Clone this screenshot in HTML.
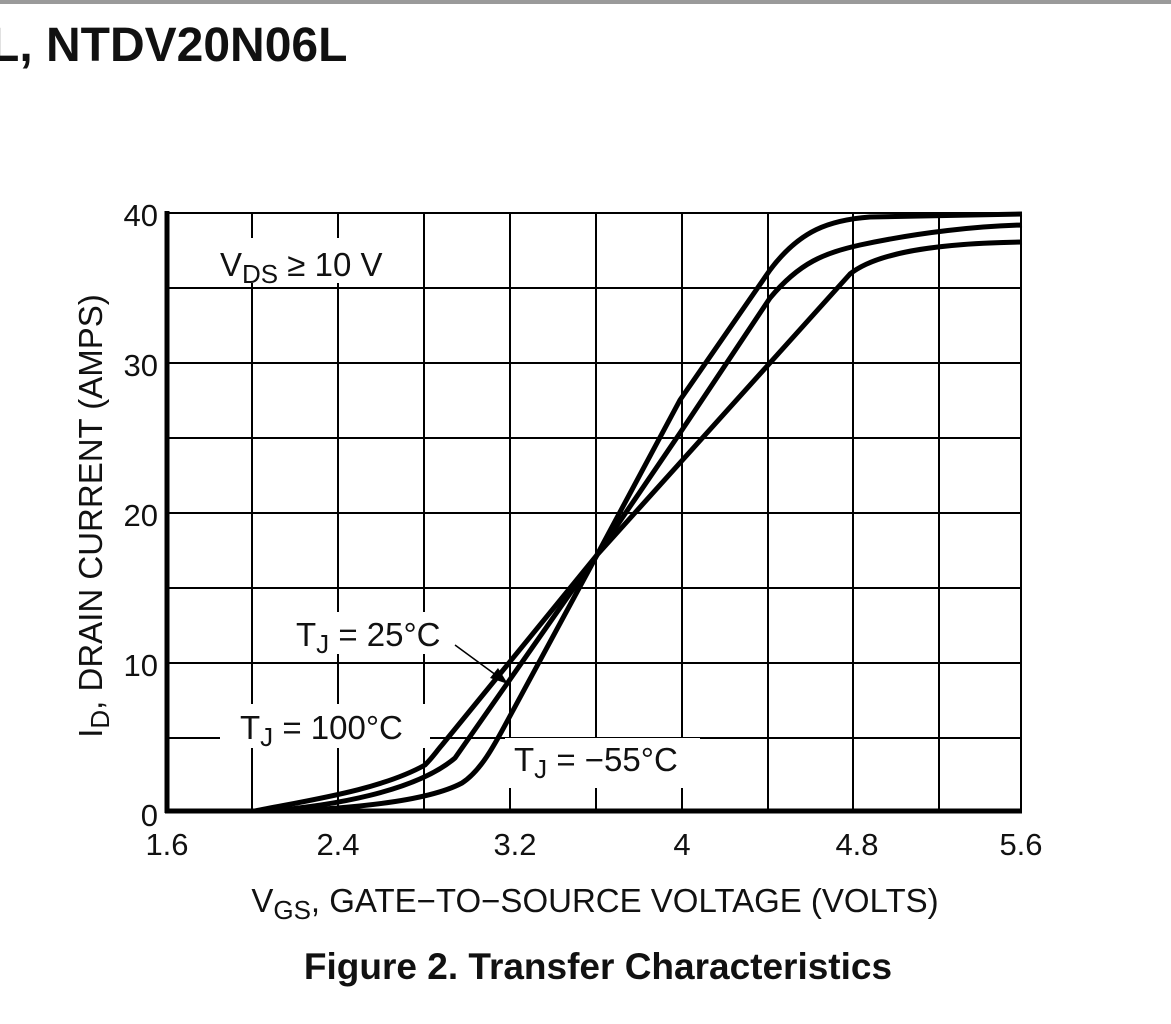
<!DOCTYPE html>
<html><head><meta charset="utf-8"><style>
html,body{margin:0;padding:0;background:#fff;}
svg{display:block;font-family:"Liberation Sans",Arial,sans-serif;}
</style></head><body>
<svg width="1171" height="1024" viewBox="0 0 1171 1024">
<rect x="0" y="0" width="1171" height="1024" fill="#fff"/>
<rect x="0" y="0" width="1171" height="4" fill="#9a9a9a"/>
<text x="-10" y="61" font-size="48" font-weight="bold" fill="#111">L, NTDV20N06L</text>
<g stroke="#000" stroke-width="2" fill="none">
<line x1="252" y1="213" x2="252" y2="812"/>
<line x1="338" y1="213" x2="338" y2="812"/>
<line x1="424" y1="213" x2="424" y2="812"/>
<line x1="510" y1="213" x2="510" y2="812"/>
<line x1="596" y1="213" x2="596" y2="812"/>
<line x1="682" y1="213" x2="682" y2="812"/>
<line x1="768" y1="213" x2="768" y2="812"/>
<line x1="853" y1="213" x2="853" y2="812"/>
<line x1="939" y1="213" x2="939" y2="812"/>
<line x1="1021" y1="213" x2="1021" y2="812"/>
<line x1="167" y1="213" x2="1022" y2="213"/>
<line x1="167" y1="288" x2="1022" y2="288"/>
<line x1="167" y1="363" x2="1022" y2="363"/>
<line x1="167" y1="438" x2="1022" y2="438"/>
<line x1="167" y1="513" x2="1022" y2="513"/>
<line x1="167" y1="588" x2="1022" y2="588"/>
<line x1="167" y1="663" x2="1022" y2="663"/>
<line x1="167" y1="738" x2="1022" y2="738"/>
</g>
<rect x="210" y="238" width="185" height="45" fill="#fff"/>
<rect x="285" y="612" width="168" height="42" fill="#fff"/>
<rect x="220" y="704" width="210" height="44" fill="#fff"/>
<rect x="505" y="738" width="195" height="50" fill="#fff"/>
<g stroke="#000" stroke-width="5" fill="none">
<line x1="167" y1="211" x2="167" y2="813"/>
<line x1="165" y1="811" x2="1022" y2="811"/>
</g>
<g stroke="#000" stroke-width="5" fill="none" stroke-linejoin="round">
<path d="M255,811 C310,800 380,790 425,765 C432,758 436,752 442,745 L597,555 L850,274 C880,250 950,243 1022,242"/>
<path d="M268,811 C330,806 415,792 455,758 L597,555 L680,433 L770,298 C800,262 825,253 860,245 C920,232 980,226 1022,225"/>
<path d="M285,811 C360,808 430,800 462,783 C482,770 496,742 510,716 L597,555 L680,400 L770,270 C800,230 830,220 870,217 L1022,214"/>
</g>
<line x1="455" y1="645" x2="500" y2="678" stroke="#000" stroke-width="1.5"/>
<polygon points="508,684 490,678 498,668" fill="#000"/>
<g font-size="33" fill="#111">
<text x="220" y="276">V<tspan font-size="26" dy="7">DS</tspan><tspan dy="-7"> ≥ 10 V</tspan></text>
<text x="296" y="646">T<tspan font-size="26" dy="7">J</tspan><tspan dy="-7"> = 25°C</tspan></text>
<text x="240" y="739">T<tspan font-size="26" dy="7">J</tspan><tspan dy="-7"> = 100°C</tspan></text>
<text x="514" y="771">T<tspan font-size="26" dy="7">J</tspan><tspan dy="-7"> = −55°C</tspan></text>
</g>
<g font-size="31" fill="#111" text-anchor="end">
<text x="158" y="226">40</text>
<text x="158" y="376">30</text>
<text x="158" y="526">20</text>
<text x="158" y="676">10</text>
<text x="158" y="826">0</text>
</g>
<g font-size="31" fill="#111" text-anchor="middle">
<text x="167" y="855">1.6</text>
<text x="338" y="855">2.4</text>
<text x="515" y="855">3.2</text>
<text x="682" y="855">4</text>
<text x="857" y="855">4.8</text>
<text x="1021" y="855">5.6</text>
</g>
<text x="595" y="912" font-size="33" fill="#111" text-anchor="middle">V<tspan font-size="26" dy="7">GS</tspan><tspan dy="-7">, GATE−TO−SOURCE VOLTAGE (VOLTS)</tspan></text>
<text x="102" y="516" font-size="33" fill="#111" text-anchor="middle" transform="rotate(-90 102 516)">I<tspan font-size="26" dy="7">D</tspan><tspan dy="-7">, DRAIN CURRENT (AMPS)</tspan></text>
<text x="598" y="979" font-size="37" font-weight="bold" fill="#111" text-anchor="middle">Figure 2. Transfer Characteristics</text>
</svg>
</body></html>
